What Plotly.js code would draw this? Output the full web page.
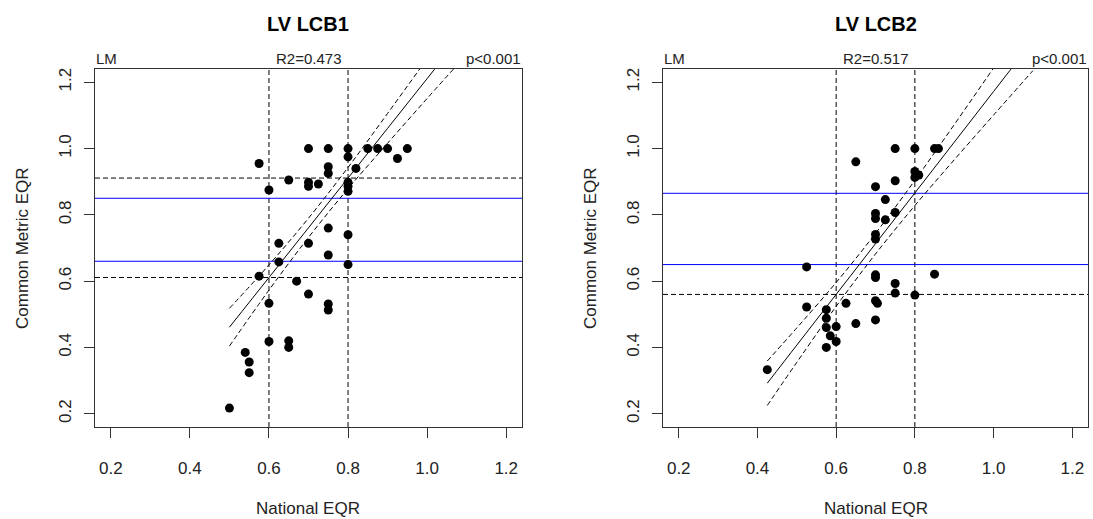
<!DOCTYPE html>
<html>
<head>
<meta charset="utf-8">
<script src="https://cdn.plot.ly/plotly-3.0.1.min.js"></script>
<style>html,body{margin:0;padding:0;background:#fff;}#chart{width:1093px;height:519px;}</style>
</head>
<body>
<div id="chart"></div>
<script>
// ---- Data ----
const panelTitles = ["LV LCB1", "LV LCB2"];
const r2Labels = ["R2=0.473", "R2=0.517"];
const pLabels = ["p<0.001", "p<0.001"];
const tickVals = [0.2, 0.4, 0.6, 0.8, 1.0, 1.2];
const tickText = ["0.2", "0.4", "0.6", "0.8", "1.0", "1.2"];

// LV LCB1 points: National EQR (x) vs Common Metric EQR (y)
const lcb1X = [0.70,0.75,0.80,0.80,0.85,0.875,0.90,0.95,0.925,0.575,
               0.75,0.75,0.82,0.65,0.70,0.70,0.725,0.80,0.80,0.80,
               0.60,0.75,0.80,0.625,0.70,0.75,0.625,0.80,0.575,0.67,
               0.70,0.75,0.75,0.60,0.60,0.65,0.65,0.54,0.55,0.55,0.50];
const lcb1Y = [1.00,1.00,1.00,0.975,1.00,1.00,1.00,1.00,0.97,0.955,
               0.945,0.925,0.94,0.905,0.898,0.886,0.893,0.898,0.886,0.871,
               0.875,0.76,0.74,0.714,0.714,0.679,0.658,0.65,0.615,0.60,
               0.561,0.531,0.513,0.533,0.418,0.42,0.40,0.385,0.356,0.324,0.217];

// LV LCB2 points
const lcb2X = [0.75,0.80,0.85,0.86,0.65,0.80,0.81,0.80,0.75,0.70,
               0.725,0.70,0.70,0.75,0.725,0.70,0.70,0.525,0.70,0.70,
               0.85,0.75,0.75,0.80,0.625,0.70,0.705,0.525,0.575,0.575,
               0.575,0.60,0.65,0.70,0.585,0.60,0.575,0.425];
const lcb2Y = [1.00,1.00,1.00,1.00,0.96,0.931,0.92,0.913,0.903,0.885,
               0.846,0.804,0.789,0.807,0.785,0.741,0.727,0.643,0.619,0.611,
               0.621,0.593,0.564,0.558,0.533,0.541,0.533,0.522,0.514,0.488,
               0.46,0.463,0.472,0.483,0.435,0.418,0.40,0.333];

// Fitted line and confidence band
const lcb1FitX  = [0.5, 0.6, 0.7, 0.8, 0.9, 1.0, 1.1];
const lcb1Fit   = [0.461, 0.611, 0.761, 0.911, 1.061, 1.211, 1.361];
const lcb1Upper = [0.518, 0.649, 0.790, 0.943, 1.106, 1.271, 1.438];
const lcb1Lower = [0.404, 0.573, 0.732, 0.879, 1.016, 1.151, 1.284];

const lcb2FitX  = [0.425, 0.5, 0.6, 0.7, 0.8, 0.9, 1.0, 1.1];
const lcb2Fit   = [0.292, 0.407, 0.560, 0.713, 0.866, 1.019, 1.172, 1.325];
const lcb2Upper = [0.359, 0.459, 0.596, 0.744, 0.904, 1.072, 1.243, 1.415];
const lcb2Lower = [0.225, 0.355, 0.524, 0.682, 0.828, 0.966, 1.101, 1.235];

// Reference lines (LCB2 upper dashed line is hidden under the blue line)
const lcb1NatBounds = [0.6, 0.8];
const lcb1CmBounds  = [0.611, 0.911];
const lcb1Blue      = [0.66, 0.85];
const lcb2NatBounds = [0.6, 0.8];
const lcb2CmBounds  = [0.56];
const lcb2Blue      = [0.65, 0.865];

// ---- Build chart ----
const FONT = "Arial, 'Liberation Sans', sans-serif";
const DASH = "5px,3px";
const W = 1093, H = 519;
const boxes = [
  {x0: 95, x1: 522},
  {x0: 663, x1: 1088}
];
const yTop = 69, yBot = 427;

function pts(x, y, xa, ya) {
  return {x: x, y: y, xaxis: xa, yaxis: ya, type: "scatter", mode: "markers",
    marker: {color: "#000", size: 9}, hoverinfo: "x+y", showlegend: false};
}
function line(x, y, xa, ya, dash) {
  return {x: x, y: y, xaxis: xa, yaxis: ya, type: "scatter", mode: "lines",
    line: {color: "#000", width: 1, dash: dash, shape: "spline"}, hoverinfo: "skip", showlegend: false};
}

const data = [
  line(lcb1FitX, lcb1Fit, "x", "y", "solid"),
  line(lcb1FitX, lcb1Upper, "x", "y", DASH),
  line(lcb1FitX, lcb1Lower, "x", "y", DASH),
  pts(lcb1X, lcb1Y, "x", "y"),
  line(lcb2FitX, lcb2Fit, "x2", "y2", "solid"),
  line(lcb2FitX, lcb2Upper, "x2", "y2", DASH),
  line(lcb2FitX, lcb2Lower, "x2", "y2", DASH),
  pts(lcb2X, lcb2Y, "x2", "y2")
];

const shapes = [];
function addRefs(xr, yr, natB, cmB, blue) {
  natB.forEach(v => shapes.push({type: "line", layer: "below", xref: xr, yref: yr + " domain",
    x0: v, x1: v, y0: 0, y1: 1, line: {color: "#000", width: 1, dash: DASH}}));
  cmB.forEach(v => shapes.push({type: "line", layer: "below", xref: xr + " domain", yref: yr,
    x0: 0, x1: 1, y0: v, y1: v, line: {color: "#000", width: 1, dash: DASH}}));
  blue.forEach(v => shapes.push({type: "line", layer: "below", xref: xr + " domain", yref: yr,
    x0: 0, x1: 1, y0: v, y1: v, line: {color: "#0000FF", width: 1}}));
}
addRefs("x", "y", lcb1NatBounds, lcb1CmBounds, lcb1Blue);
addRefs("x2", "y2", lcb2NatBounds, lcb2CmBounds, lcb2Blue);

function xAxis(i) {
  return {domain: [boxes[i].x0 / W, boxes[i].x1 / W], range: [0.16, 1.24],
    anchor: i === 0 ? "y" : "y2",
    tickmode: "array", tickvals: tickVals, ticktext: tickText,
    ticks: "outside", ticklen: 10, tickwidth: 1, tickcolor: "#333",
    showline: true, mirror: true, linecolor: "#333", linewidth: 1,
    showgrid: false, zeroline: false, ticklabelstandoff: 16,
    tickfont: {family: FONT, size: 17, color: "#222"}, fixedrange: true};
}
function yAxis(i) {
  return {domain: [1 - yBot / H, 1 - yTop / H], range: [0.16, 1.24],
    anchor: i === 0 ? "x" : "x2",
    tickmode: "array", tickvals: tickVals, ticktext: tickText, tickangle: -90,
    ticks: "outside", ticklen: 10, tickwidth: 1, tickcolor: "#333",
    showline: true, mirror: true, linecolor: "#333", linewidth: 1,
    showgrid: false, zeroline: false, ticklabelstandoff: 6,
    tickfont: {family: FONT, size: 17, color: "#222"}, fixedrange: true};
}

const annotations = [];
for (let i = 0; i < 2; i++) {
  const b = boxes[i];
  const cx = (b.x0 + b.x1) / 2 / W;
  annotations.push({text: "<b>" + panelTitles[i] + "</b>", xref: "paper", yref: "paper",
    x: cx, y: 1 - 24 / H, xanchor: "center", yanchor: "middle", showarrow: false,
    font: {family: FONT, size: 20, color: "#000"}});
  annotations.push({text: "LM", xref: "paper", yref: "paper", x: b.x0 / W, y: 1 - 68 / H,
    xanchor: "left", yanchor: "bottom", showarrow: false, borderpad: 0,
    font: {family: FONT, size: 15, color: "#222"}});
  annotations.push({text: r2Labels[i], xref: "paper", yref: "paper", x: cx, y: 1 - 68 / H,
    xanchor: "center", yanchor: "bottom", showarrow: false, borderpad: 0,
    font: {family: FONT, size: 15, color: "#222"}});
  annotations.push({text: pLabels[i], xref: "paper", yref: "paper", x: b.x1 / W, y: 1 - 68 / H,
    xanchor: "right", yanchor: "bottom", showarrow: false, borderpad: 0,
    font: {family: FONT, size: 15, color: "#222"}});
  annotations.push({text: "National EQR", xref: "paper", yref: "paper", x: cx, y: 1 - 508 / H,
    xanchor: "center", yanchor: "middle", showarrow: false,
    font: {family: FONT, size: 17, color: "#222"}});
  annotations.push({text: "Common Metric EQR", xref: "paper", yref: "paper",
    x: (b.x0 - 73) / W, y: 1 - 248 / H, textangle: -90,
    xanchor: "center", yanchor: "middle", showarrow: false,
    font: {family: FONT, size: 17, color: "#222"}});
}

const layout = {
  width: W, height: H, margin: {l: 0, r: 0, t: 0, b: 0},
  paper_bgcolor: "#fff", plot_bgcolor: "#fff", showlegend: false,
  xaxis: xAxis(0), yaxis: yAxis(0), xaxis2: xAxis(1), yaxis2: yAxis(1),
  shapes: shapes, annotations: annotations
};

Plotly.newPlot("chart", data, layout, {displayModeBar: false, staticPlot: true});
</script>
</body>
</html>
